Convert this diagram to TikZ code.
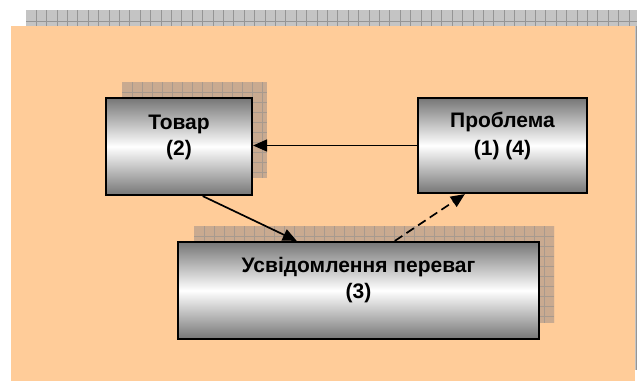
\documentclass[tikz,border=0pt]{standalone}
\usepackage{fontspec}
\setmainfont{Liberation Sans}
\usetikzlibrary{arrows.meta,calc}
\definecolor{peach}{HTML}{FFCC99}
\definecolor{shadowbrown}{HTML}{C9AA90}
\definecolor{shadowline}{HTML}{A89A8E}
\definecolor{stripgrey}{HTML}{C4C4C4}
\definecolor{stripline}{HTML}{959595}
\definecolor{boxgrey}{HTML}{767676}
\newcommand\myshadowrect[4]{%
  \fill[shadowbrown] (#1,#2) rectangle (#3,#4);
  \begin{scope}
    \clip (#1,#2) rectangle (#3,#4);
    \foreach \gx in {10,20,...,400} \draw[shadowgrid] ({#1+\gx},#2) -- ({#1+\gx},#4);
    \foreach \gy in {10,20,...,200} \draw[shadowgrid] (#1,{#2+\gy}) -- (#3,{#2+\gy});
  \end{scope}}
\begin{document}
\begin{tikzpicture}[x=1pt,y=-1pt,
  box/.style={draw=black, line width=2.2pt, top color=boxgrey, bottom color=boxgrey, middle color=white, inner sep=0pt},
  lbl/.style={font=\fontsize{21}{24}\selectfont\bfseries, anchor=base, inner sep=0pt},
  conn/.style={line width=1.7pt, -{Triangle[length=14pt,width=12pt]}},
  shadowgrid/.style={draw=shadowline, line width=0.5pt},
  stripgrid/.style={draw=stripline, line width=0.6pt}
]
\useasboundingbox (0,0) rectangle (637,381);
% shadow of the background
\fill[stripgrey] (26,10) rectangle (650,370);
\foreach \sx in {0,...,60} \draw[stripgrid] ({36+10.4*\sx},10) -- ({36+10.4*\sx},26);
\draw[stripgrid] (26,21) -- (650,21);
\draw[stripgrid] (636,26) -- (636,370);
% background
\fill[peach] (11,26) rectangle (635,381);
% box shadows
\myshadowrect{122}{82}{267}{178}
\myshadowrect{194}{226}{554}{323}
% boxes
\node[box, minimum width=146pt, minimum height=97pt] (tov) at (179,146.5) {};
\node[box, minimum width=169pt, minimum height=95pt] (prob) at (502.5,145.5) {};
\node[box, minimum width=361pt, minimum height=97pt] (usv) at (358.5,290.5) {};
% labels
\node[lbl] (tov1) at (179,129) {Товар};
\node[lbl] (tov2) at (179,155) {(2)};
\node[lbl] (prob1) at (502.5,127) {Проблема};
\node[lbl] (prob2) at (502.5,155) {(1) (4)};
\node[lbl] (usv1) at (358.5,272) {Усвідомлення переваг};
\node[lbl] (usv2) at (358.5,298) {(3)};
% connectors
\draw[conn] (prob.west) -- (prob.west -| tov.east);
\draw[conn] ($(tov.south west)!0.66!(tov.south east)$) -- ($(usv.north west)!0.33!(usv.north east)$);
\draw[conn, dash pattern=on 9pt off 5pt] ($(usv.north west)!0.60!(usv.north east)$) -- ($(prob.south west)!0.28!(prob.south east)$);
\end{tikzpicture}
\end{document}
